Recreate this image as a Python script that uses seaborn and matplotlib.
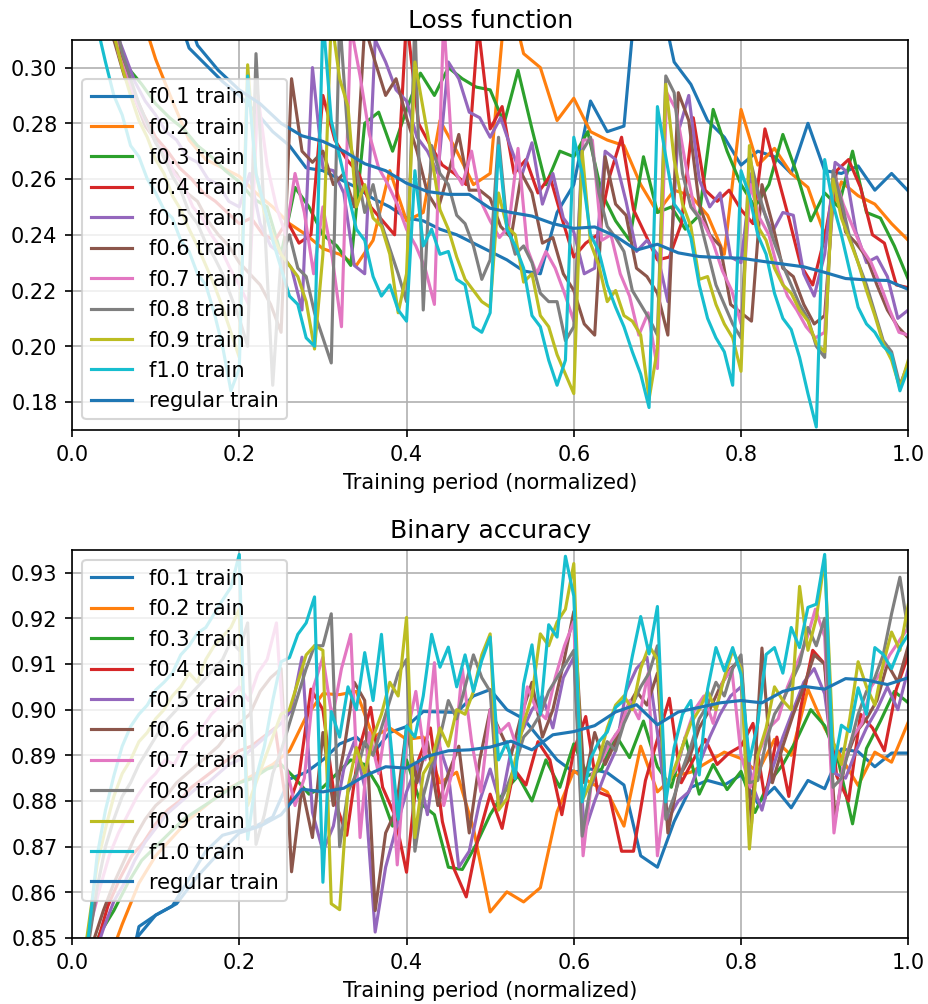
import numpy as np
import pandas as pd
import matplotlib
matplotlib.use("Agg")
import matplotlib.pyplot as plt
import seaborn as sns

labels = ["f0.1 train", "f0.2 train", "f0.3 train", "f0.4 train", "f0.5 train",
          "f0.6 train", "f0.7 train", "f0.8 train", "f0.9 train", "f1.0 train",
          "regular train"]

# ---------------- Loss function ----------------
loss_f01 = [0.55, 0.48, 0.43, 0.39, 0.355, 0.325, 0.307, 0.301, 0.295, 0.29,
            0.284, 0.277, 0.272, 0.264, 0.263, 0.26, 0.257, 0.253, 0.25, 0.246,
            0.245, 0.242, 0.24, 0.237, 0.234, 0.231, 0.227, 0.226, 0.248, 0.258,
            0.288, 0.277, 0.279, 0.345, 0.33, 0.302, 0.294, 0.281, 0.275, 0.265,
            0.27, 0.268, 0.262, 0.28, 0.263, 0.262, 0.2647, 0.256, 0.262, 0.2557]
loss_f02 = [0.42, 0.38, 0.35, 0.322, 0.303, 0.288, 0.274, 0.267, 0.264, 0.261,
            0.255, 0.25, 0.244, 0.24, 0.235, 0.233, 0.229, 0.238, 0.263, 0.245,
            0.248, 0.281, 0.27, 0.258, 0.262, 0.33, 0.305, 0.30, 0.281, 0.289,
            0.277, 0.274, 0.272, 0.258, 0.248, 0.256, 0.254, 0.247, 0.233, 0.285,
            0.265, 0.271, 0.262, 0.257, 0.24, 0.259, 0.254, 0.251, 0.244, 0.238]
loss_f03 = [0.45, 0.38, 0.31, 0.30, 0.294, 0.287, 0.282, 0.278, 0.272, 0.268,
            0.263, 0.259, 0.253, 0.25, 0.233, 0.257, 0.25, 0.24, 0.236, 0.229,
            0.28, 0.284, 0.27, 0.285, 0.298, 0.29, 0.30, 0.296, 0.293, 0.292,
            0.28, 0.299, 0.278, 0.258, 0.27, 0.268, 0.277, 0.255, 0.245, 0.238,
            0.268, 0.248, 0.25, 0.242, 0.247, 0.285, 0.27, 0.258, 0.25, 0.258,
            0.276, 0.262, 0.245, 0.255, 0.25, 0.27, 0.248, 0.246, 0.236, 0.224]
loss_f04 = [0.46, 0.39, 0.33, 0.305, 0.293, 0.283, 0.275, 0.27, 0.264, 0.26,
            0.255, 0.252, 0.248, 0.244, 0.246, 0.24, 0.238, 0.245, 0.237, 0.24,
            0.29, 0.274, 0.267, 0.262, 0.25, 0.245, 0.24, 0.318, 0.28, 0.272,
            0.265, 0.262, 0.258, 0.315, 0.278, 0.286, 0.262, 0.267, 0.255, 0.261,
            0.246, 0.232, 0.237, 0.24, 0.261, 0.275, 0.249, 0.24, 0.231, 0.232,
            0.244, 0.282, 0.256, 0.252, 0.256, 0.249, 0.244, 0.278, 0.262, 0.246,
            0.229, 0.222, 0.239, 0.263, 0.267, 0.257, 0.24, 0.237, 0.222, 0.221]
loss_f05 = [0.47, 0.40, 0.35, 0.315, 0.305, 0.295, 0.288, 0.283, 0.277, 0.274,
            0.268, 0.266, 0.26, 0.258, 0.252, 0.25, 0.262, 0.244, 0.236, 0.233,
            0.228, 0.213, 0.30, 0.264, 0.263, 0.255, 0.229, 0.226, 0.31, 0.302,
            0.292, 0.288, 0.275, 0.27, 0.262, 0.302, 0.296, 0.284, 0.282, 0.275,
            0.282, 0.271, 0.261, 0.273, 0.251, 0.262, 0.246, 0.241, 0.226, 0.228,
            0.27, 0.267, 0.252, 0.234, 0.238, 0.233, 0.216, 0.277, 0.29, 0.26,
            0.25, 0.255, 0.232, 0.23, 0.262, 0.25, 0.241, 0.248, 0.247, 0.226,
            0.218, 0.233, 0.266, 0.263, 0.241, 0.23, 0.232, 0.225, 0.21, 0.213]
loss_f06 = [0.46, 0.39, 0.34, 0.31, 0.297, 0.289, 0.279, 0.274, 0.266, 0.262,
            0.255, 0.252, 0.245, 0.24, 0.236, 0.23, 0.226, 0.222, 0.215, 0.205,
            0.296, 0.27, 0.266, 0.27, 0.258, 0.262, 0.25, 0.315, 0.302, 0.29,
            0.296, 0.282, 0.27, 0.255, 0.249, 0.262, 0.276, 0.256, 0.256, 0.253,
            0.243, 0.239, 0.262, 0.255, 0.237, 0.239, 0.226, 0.22, 0.208, 0.204,
            0.268, 0.251, 0.247, 0.228, 0.225, 0.219, 0.204, 0.291, 0.281, 0.251,
            0.24, 0.236, 0.215, 0.212, 0.209, 0.258, 0.244, 0.228, 0.225, 0.215,
            0.208, 0.211, 0.262, 0.241, 0.237, 0.232, 0.222, 0.213, 0.207, 0.203]
loss_f07 = [0.47, 0.41, 0.36, 0.33, 0.305, 0.296, 0.287, 0.28, 0.273, 0.27,
            0.262, 0.258, 0.25, 0.246, 0.24, 0.235, 0.228, 0.222, 0.215, 0.29,
            0.265, 0.25, 0.24, 0.262, 0.248, 0.226, 0.25, 0.232, 0.207, 0.315,
            0.297, 0.276, 0.264, 0.258, 0.251, 0.242, 0.236, 0.228, 0.215, 0.318,
            0.264, 0.258, 0.27, 0.252, 0.245, 0.239, 0.243, 0.271, 0.235, 0.226,
            0.234, 0.228, 0.219, 0.209, 0.274, 0.274, 0.238, 0.24, 0.226, 0.218,
            0.204, 0.212, 0.192, 0.291, 0.285, 0.266, 0.249, 0.244, 0.237, 0.227,
            0.22, 0.208, 0.258, 0.246, 0.24, 0.227, 0.218, 0.213, 0.207, 0.203,
            0.205, 0.262, 0.251, 0.243, 0.235, 0.23, 0.222, 0.213, 0.205, 0.204]
loss_f08 = [0.48, 0.43, 0.38, 0.345, 0.32, 0.305, 0.296, 0.287, 0.28, 0.273,
            0.268, 0.261, 0.256, 0.248, 0.244, 0.237, 0.232, 0.226, 0.218, 0.21,
            0.20, 0.305, 0.246, 0.186, 0.232, 0.24, 0.228, 0.225, 0.212, 0.203,
            0.194, 0.318, 0.275, 0.264, 0.248, 0.258, 0.244, 0.235, 0.226, 0.216,
            0.318, 0.213, 0.272, 0.262, 0.258, 0.247, 0.244, 0.236, 0.224, 0.231,
            0.275, 0.244, 0.233, 0.236, 0.23, 0.219, 0.216, 0.216, 0.202, 0.207,
            0.27, 0.275, 0.255, 0.243, 0.239, 0.234, 0.22, 0.215, 0.21, 0.204,
            0.297, 0.291, 0.262, 0.25, 0.246, 0.234, 0.222, 0.215, 0.208, 0.203,
            0.268, 0.256, 0.246, 0.237, 0.229, 0.222, 0.215, 0.21, 0.20, 0.196,
            0.263, 0.252, 0.239, 0.23, 0.222, 0.212, 0.202, 0.198, 0.186, 0.194]
loss_f09 = [0.46, 0.41, 0.37, 0.338, 0.312, 0.30, 0.29, 0.281, 0.275, 0.267,
            0.262, 0.254, 0.249, 0.242, 0.236, 0.229, 0.222, 0.214, 0.205, 0.196,
            0.301, 0.262, 0.248, 0.24, 0.233, 0.229, 0.225, 0.216, 0.199, 0.233,
            0.318, 0.296, 0.286, 0.25, 0.258, 0.246, 0.243, 0.233, 0.212, 0.226,
            0.302, 0.285, 0.268, 0.249, 0.242, 0.232, 0.224, 0.22, 0.216, 0.214,
            0.255, 0.243, 0.24, 0.223, 0.226, 0.211, 0.207, 0.197, 0.19, 0.183,
            0.27, 0.237, 0.229, 0.216, 0.22, 0.211, 0.209, 0.204, 0.181, 0.199,
            0.294, 0.267, 0.251, 0.243, 0.224, 0.225, 0.215, 0.208, 0.203, 0.191,
            0.272, 0.243, 0.238, 0.228, 0.222, 0.219, 0.213, 0.209, 0.201, 0.198,
            0.26, 0.246, 0.238, 0.23, 0.22, 0.211, 0.201, 0.195, 0.185, 0.195]
loss_f10 = [0.345, 0.33, 0.315, 0.302, 0.29, 0.283, 0.272, 0.268, 0.26, 0.255,
            0.249, 0.246, 0.238, 0.234, 0.226, 0.222, 0.212, 0.20, 0.184, 0.192,
            0.297, 0.262, 0.25, 0.238, 0.228, 0.218, 0.215, 0.203, 0.20, 0.318,
            0.281, 0.268, 0.255, 0.242, 0.238, 0.225, 0.218, 0.222, 0.213, 0.209,
            0.263, 0.236, 0.242, 0.233, 0.234, 0.224, 0.222, 0.207, 0.205, 0.212,
            0.272, 0.242, 0.236, 0.228, 0.211, 0.207, 0.195, 0.186, 0.195, 0.275,
            0.262, 0.24, 0.234, 0.222, 0.214, 0.207, 0.198, 0.19, 0.178, 0.286,
            0.268, 0.251, 0.247, 0.239, 0.222, 0.21, 0.203, 0.198, 0.186, 0.263,
            0.254, 0.24, 0.233, 0.219, 0.21, 0.206, 0.196, 0.183, 0.171, 0.267,
            0.251, 0.24, 0.227, 0.214, 0.208, 0.205, 0.20, 0.197, 0.184, 0.192]
loss_regular = [0.60, 0.50, 0.43, 0.375, 0.33, 0.308, 0.299, 0.292, 0.287, 0.28,
                0.2755, 0.2735, 0.27, 0.2655, 0.263, 0.2585, 0.2555, 0.2545, 0.2545, 0.2495,
                0.248, 0.2467, 0.244, 0.2423, 0.2428, 0.2395, 0.2345, 0.2366, 0.2335, 0.2322,
                0.2318, 0.2316, 0.2305, 0.2295, 0.2285, 0.2265, 0.2243, 0.2238, 0.2236, 0.2204]

# ---------------- Binary accuracy ----------------
acc_f01 = [0.78, 0.81, 0.835, 0.8525, 0.855, 0.857, 0.863, 0.869, 0.8725, 0.8735,
           0.8745, 0.8765, 0.8848, 0.8863, 0.889, 0.8925, 0.894, 0.8905, 0.895, 0.8963,
           0.8996, 0.8995, 0.8994, 0.903, 0.9044, 0.90, 0.898, 0.8935, 0.889, 0.8863,
           0.887, 0.8862, 0.8835, 0.868, 0.8655, 0.8755, 0.883, 0.8845, 0.8835, 0.8857,
           0.8795, 0.883, 0.8785, 0.8845, 0.8827, 0.8914, 0.8908, 0.8875, 0.8905, 0.8905]
acc_f02 = [0.83, 0.843, 0.853, 0.862, 0.868, 0.872, 0.876, 0.879, 0.882, 0.884,
           0.886, 0.888, 0.891, 0.8985, 0.9035, 0.9033, 0.904, 0.894, 0.896, 0.8935,
           0.894, 0.884, 0.8863, 0.874, 0.8557, 0.8601, 0.8579, 0.861, 0.8776, 0.8866,
           0.884, 0.882, 0.8745, 0.892, 0.882, 0.8855, 0.8863, 0.8885, 0.8907, 0.8893,
           0.8863, 0.8935, 0.89, 0.9045, 0.896, 0.8895, 0.8834, 0.8907, 0.8885, 0.8973]
acc_f03 = [0.843, 0.851, 0.856, 0.862, 0.867, 0.87, 0.873, 0.876, 0.878, 0.88,
           0.882, 0.884, 0.885, 0.887, 0.888, 0.885, 0.8815, 0.883, 0.886, 0.889,
           0.888, 0.883, 0.8745, 0.889, 0.8795, 0.877, 0.8655, 0.865, 0.8705, 0.877,
           0.882, 0.8855, 0.88, 0.889, 0.883, 0.8925, 0.8855, 0.887, 0.8945, 0.8895,
           0.8975, 0.8875, 0.883, 0.894, 0.8815, 0.888, 0.8825, 0.8865, 0.8775, 0.884,
           0.888, 0.8935, 0.90, 0.8965, 0.8885, 0.875, 0.8915, 0.8975, 0.904, 0.9015]
acc_f04 = [0.84, 0.848, 0.857, 0.863, 0.868, 0.871, 0.875, 0.878, 0.88, 0.883,
           0.885, 0.887, 0.889, 0.891, 0.892, 0.894, 0.896, 0.878, 0.8855, 0.9045,
           0.90, 0.88, 0.8725, 0.891, 0.9005, 0.883, 0.877, 0.8644, 0.889, 0.896,
           0.8755, 0.865, 0.859, 0.872, 0.8815, 0.874, 0.887, 0.8835, 0.893, 0.889,
           0.877, 0.891, 0.8985, 0.882, 0.881, 0.869, 0.869, 0.8845, 0.8935, 0.9025,
           0.884, 0.889, 0.8935, 0.888, 0.8905, 0.892, 0.897, 0.8805, 0.894, 0.881,
           0.9005, 0.913, 0.91, 0.8855, 0.88, 0.899, 0.896, 0.891, 0.9045, 0.912]
acc_f05 = [0.838, 0.845, 0.852, 0.858, 0.862, 0.867, 0.871, 0.874, 0.877, 0.879,
           0.881, 0.883, 0.884, 0.886, 0.888, 0.889, 0.891, 0.893, 0.895, 0.897,
           0.90, 0.9115, 0.8775, 0.869, 0.8745, 0.887, 0.893, 0.883, 0.8513, 0.8655,
           0.874, 0.882, 0.888, 0.877, 0.893, 0.886, 0.8655, 0.869, 0.88, 0.887,
           0.879, 0.891, 0.895, 0.90, 0.903, 0.896, 0.907, 0.9115, 0.873, 0.88,
           0.886, 0.891, 0.904, 0.909, 0.9115, 0.895, 0.876, 0.88, 0.882, 0.888,
           0.894, 0.899, 0.903, 0.905, 0.884, 0.878, 0.887, 0.894, 0.90, 0.906,
           0.909, 0.9035, 0.886, 0.885, 0.891, 0.896, 0.90, 0.905, 0.90, 0.909]
acc_f06 = [0.842, 0.849, 0.856, 0.862, 0.867, 0.872, 0.876, 0.879, 0.881, 0.884,
           0.886, 0.888, 0.89, 0.892, 0.895, 0.897, 0.899, 0.904, 0.907, 0.909,
           0.8645, 0.883, 0.872, 0.895, 0.879, 0.891, 0.906, 0.902, 0.856, 0.873,
           0.878, 0.896, 0.884, 0.893, 0.879, 0.886, 0.892, 0.873, 0.889, 0.90,
           0.895, 0.89, 0.899, 0.906, 0.894, 0.90, 0.91, 0.9215, 0.884, 0.895,
           0.888, 0.893, 0.90, 0.904, 0.901, 0.908, 0.873, 0.885, 0.889, 0.896,
           0.90, 0.905, 0.909, 0.911, 0.875, 0.9135, 0.884, 0.892, 0.899, 0.905,
           0.912, 0.91, 0.876, 0.889, 0.895, 0.898, 0.902, 0.91, 0.906, 0.914]
acc_f07 = [0.845, 0.853, 0.861, 0.868, 0.873, 0.877, 0.881, 0.884, 0.886, 0.889,
           0.888, 0.892, 0.894, 0.896, 0.899, 0.901, 0.903, 0.905, 0.902, 0.908,
           0.911, 0.919, 0.888, 0.879, 0.885, 0.905, 0.9115, 0.898, 0.909, 0.9165,
           0.872, 0.895, 0.886, 0.90, 0.866, 0.894, 0.904, 0.889, 0.9103, 0.879,
           0.887, 0.909, 0.893, 0.882, 0.90, 0.895, 0.897, 0.891, 0.905, 0.90,
           0.898, 0.907, 0.914, 0.9193, 0.868, 0.886, 0.889, 0.893, 0.896, 0.902,
           0.898, 0.908, 0.868, 0.884, 0.887, 0.894, 0.90, 0.903, 0.897, 0.906,
           0.909, 0.89, 0.883, 0.891, 0.896, 0.898, 0.905, 0.91, 0.915, 0.922,
           0.916, 0.873, 0.888, 0.894, 0.897, 0.905, 0.908, 0.912, 0.915, 0.918]
acc_f08 = [0.84, 0.849, 0.861, 0.87, 0.876, 0.881, 0.884, 0.888, 0.891, 0.894,
           0.897, 0.899, 0.901, 0.903, 0.905, 0.907, 0.909, 0.911, 0.915, 0.913,
           0.919, 0.8705, 0.877, 0.886, 0.891, 0.897, 0.903, 0.909, 0.914, 0.914,
           0.921, 0.87, 0.882, 0.886, 0.893, 0.89, 0.896, 0.902, 0.908, 0.911,
           0.869, 0.881, 0.888, 0.894, 0.902, 0.898, 0.905, 0.912, 0.907, 0.904,
           0.879, 0.883, 0.888, 0.894, 0.896, 0.899, 0.904, 0.907, 0.91, 0.913,
           0.8723, 0.883, 0.888, 0.893, 0.891, 0.897, 0.901, 0.905, 0.908, 0.914,
           0.876, 0.881, 0.887, 0.892, 0.898, 0.901, 0.906, 0.903, 0.909, 0.912,
           0.884, 0.8845, 0.893, 0.899, 0.902, 0.906, 0.91, 0.918, 0.914, 0.92,
           0.883, 0.885, 0.892, 0.899, 0.904, 0.907, 0.912, 0.921, 0.929, 0.917]
acc_f09 = [0.84, 0.853, 0.866, 0.874, 0.881, 0.886, 0.889, 0.893, 0.895, 0.898,
           0.90, 0.903, 0.905, 0.908, 0.906, 0.911, 0.914, 0.916, 0.918, 0.922,
           0.879, 0.884, 0.889, 0.894, 0.899, 0.90, 0.906, 0.912, 0.914, 0.913,
           0.8575, 0.8562, 0.883, 0.8917, 0.886, 0.894, 0.899, 0.906, 0.903, 0.9202,
           0.872, 0.886, 0.889, 0.896, 0.892, 0.90, 0.899, 0.904, 0.912, 0.9166,
           0.878, 0.8805, 0.889, 0.897, 0.903, 0.9166, 0.914, 0.9192, 0.922, 0.932,
           0.88, 0.884, 0.889, 0.896, 0.901, 0.903, 0.90, 0.909, 0.914, 0.911,
           0.882, 0.887, 0.892, 0.897, 0.90, 0.904, 0.90, 0.907, 0.913, 0.909,
           0.8695, 0.89, 0.896, 0.905, 0.902, 0.90, 0.927, 0.913, 0.92, 0.933,
           0.893, 0.888, 0.898, 0.9105, 0.905, 0.901, 0.91, 0.917, 0.913, 0.923]
acc_f10 = [0.84, 0.851, 0.868, 0.878, 0.8855, 0.892, 0.8963, 0.899, 0.901, 0.9043,
           0.906, 0.908, 0.912, 0.914, 0.9168, 0.918, 0.921, 0.924, 0.9268, 0.934,
           0.8716, 0.885, 0.892, 0.902, 0.9105, 0.9114, 0.9165, 0.919, 0.9247, 0.8622,
           0.8996, 0.894, 0.905, 0.90, 0.9125, 0.902, 0.9165, 0.895, 0.876, 0.8964,
           0.894, 0.903, 0.9165, 0.9093, 0.9137, 0.905, 0.912, 0.904, 0.9108, 0.9159,
           0.889, 0.893, 0.8849, 0.9056, 0.9142, 0.899, 0.9186, 0.9159, 0.9336, 0.9249,
           0.8798, 0.8893, 0.893, 0.8951, 0.9005, 0.902, 0.9117, 0.9204, 0.9122, 0.9226,
           0.8798, 0.8917, 0.899, 0.902, 0.8857, 0.9045, 0.9136, 0.9085, 0.9136, 0.9077,
           0.8888, 0.897, 0.9121, 0.9136, 0.908, 0.918, 0.9136, 0.9224, 0.9231, 0.934,
           0.8864, 0.8966, 0.8952, 0.9048, 0.899, 0.9136, 0.9121, 0.909, 0.9136, 0.9165]
acc_regular = [0.80, 0.825, 0.8495, 0.855, 0.8575, 0.8635, 0.8685, 0.873, 0.8745, 0.877,
               0.8826, 0.882, 0.8828, 0.8855, 0.8875, 0.8872, 0.8898, 0.891, 0.8912, 0.8918,
               0.8931, 0.8912, 0.8945, 0.8952, 0.8965, 0.8995, 0.9011, 0.8967, 0.8995, 0.9005,
               0.9015, 0.902, 0.9015, 0.904, 0.9051, 0.9045, 0.9068, 0.9065, 0.9055, 0.907]

loss_series = [loss_f01, loss_f02, loss_f03, loss_f04, loss_f05, loss_f06,
               loss_f07, loss_f08, loss_f09, loss_f10, loss_regular]
acc_series = [acc_f01, acc_f02, acc_f03, acc_f04, acc_f05, acc_f06,
              acc_f07, acc_f08, acc_f09, acc_f10, acc_regular]

loss_yticks = [0.18, 0.20, 0.22, 0.24, 0.26, 0.28, 0.30]
acc_yticks = [0.85, 0.86, 0.87, 0.88, 0.89, 0.90, 0.91, 0.92, 0.93]
xticks = [0.0, 0.2, 0.4, 0.6, 0.8, 1.0]


def long_frame(series_list):
    parts = []
    for lab, vals in zip(labels, series_list):
        n = len(vals)
        parts.append(pd.DataFrame({"period": np.linspace(1.0 / n, 1.0, n),
                                   "value": vals, "series": lab}))
    return pd.concat(parts, ignore_index=True)


tab = sns.color_palette("tab10", 10)
palette = {lab: tab[i] for i, lab in enumerate(labels[:10])}
palette["regular train"] = tab[0]

DPI = 150
fig = plt.figure(figsize=(928.3 / DPI, 1004.3 / DPI), dpi=DPI)
ax1 = fig.add_axes([72 / 928, 1 - 430 / 1004, 836 / 928, 390 / 1004])
ax2 = fig.add_axes([72 / 928, 1 - 938 / 1004, 836 / 928, 388 / 1004])

panels = [
    (ax1, loss_series, "Loss function", (0.17, 0.31), loss_yticks, "lower left"),
    (ax2, acc_series, "Binary accuracy", (0.85, 0.935), acc_yticks, "upper left"),
]

for ax, series, title, ylim, yticks, loc in panels:
    df = long_frame(series)
    sns.lineplot(data=df, x="period", y="value", hue="series", hue_order=labels,
                 palette=palette, estimator=None, sort=False, legend=False,
                 linewidth=1.5, ax=ax)
    ax.set_xlim(0, 1)
    ax.set_ylim(*ylim)
    ax.set_xticks(xticks)
    ax.set_yticks(yticks)
    ax.set_title(title)
    ax.set_xlabel("Training period (normalized)")
    ax.set_ylabel("")
    ax.grid(True)
    handles = ax.get_lines()[:len(labels)]
    ax.legend(handles=handles, labels=labels, loc=loc)

fig.savefig("out.png", dpi=DPI)
